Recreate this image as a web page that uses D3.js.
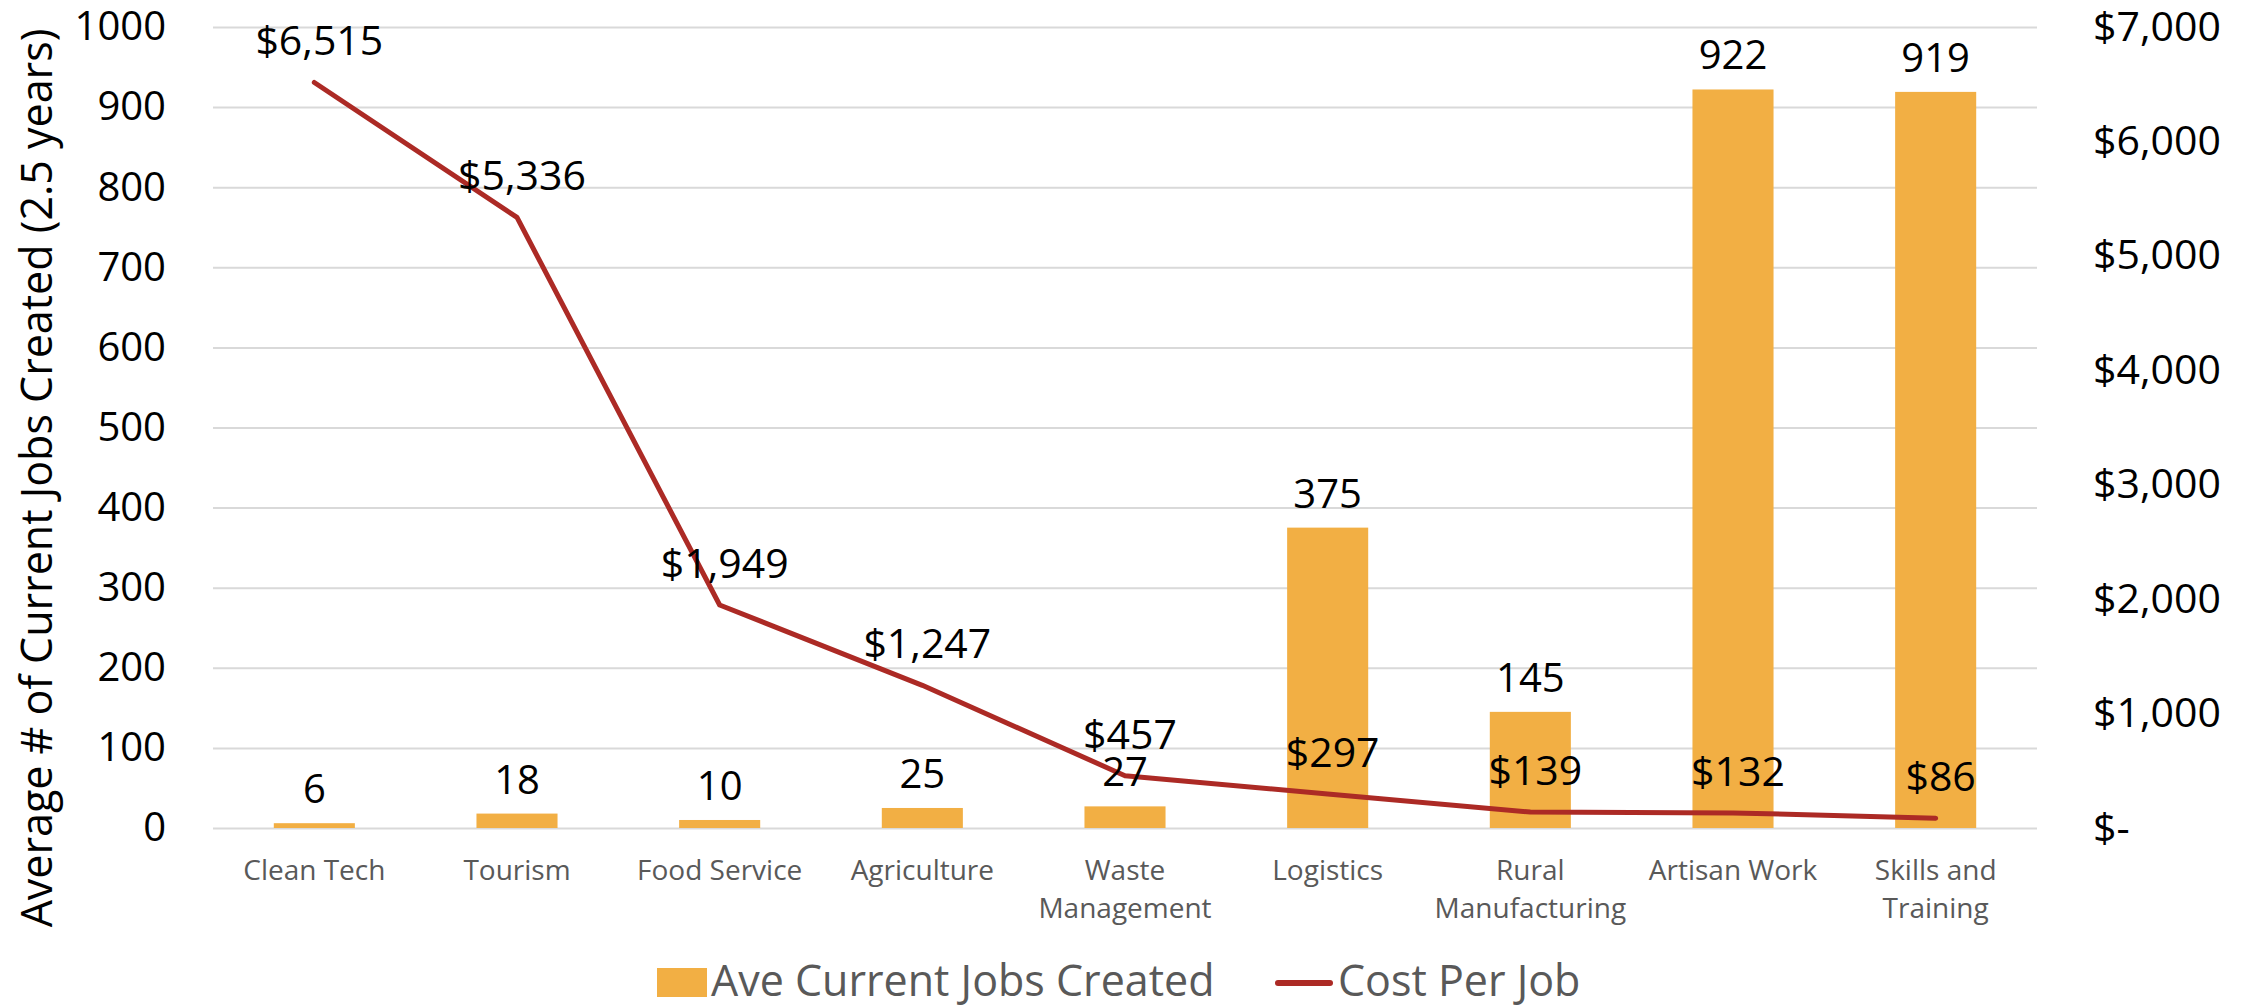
<!DOCTYPE html>
<html>
<head>
<meta charset="utf-8">
<script src="https://cdn.jsdelivr.net/npm/d3@7"></script>
<style>
  body { margin: 0; background: #fff; }
  svg { display: block; font-family: "Open Sans", sans-serif; }
</style>
</head>
<body>
<div class="canvas"></div>
<script>
const categories = [
  "Clean Tech", "Tourism", "Food Service", "Agriculture", "Waste Management",
  "Logistics", "Rural Manufacturing", "Artisan Work", "Skills and Training"
];
const jobsCreated = [6, 18, 10, 25, 27, 375, 145, 922, 919];
const costPerJob = [6515, 5336, 1949, 1247, 457, 297, 139, 132, 86];
const leftTicks = [0, 100, 200, 300, 400, 500, 600, 700, 800, 900, 1000];
const rightTicks = [0, 1000, 2000, 3000, 4000, 5000, 6000, 7000];
const seriesNames = ["Ave Current Jobs Created", "Cost Per Job"];

const width = 2257;
const height = 1006;
const margin = { top: 27, right: 220, bottom: 178, left: 213 };

const barColor = "#F2AF44";
const lineColor = "#AC2A25";
const gridColor = "#D9D9D9";
const greyText = "#595959";

const svg = d3
  .select(".canvas")
  .append("svg")
  .attr("width", width)
  .attr("height", height);

const x = d3
  .scaleBand()
  .domain(categories)
  .range([margin.left, width - margin.right])
  .paddingInner(0.6)
  .paddingOuter(0.3);

const yLeft = d3
  .scaleLinear()
  .domain([0, 1000])
  .range([height - margin.bottom, margin.top]);

const yRight = d3
  .scaleLinear()
  .domain([0, 7000])
  .range([height - margin.bottom, margin.top]);

// gridlines
svg
  .append("g")
  .attr("transform", `translate(${margin.left},0)`)
  .call(
    d3.axisLeft(yLeft)
      .tickValues(leftTicks)
      .tickSize(-(width - margin.left - margin.right))
      .tickFormat("")
  )
  .call((g) => g.select(".domain").remove())
  .call((g) => g.selectAll("line").attr("stroke", gridColor).attr("stroke-width", 2));

// left axis
svg
  .append("g")
  .attr("transform", `translate(${margin.left},0)`)
  .call(
    d3.axisLeft(yLeft)
      .tickValues(leftTicks)
      .tickSize(0)
      .tickPadding(47)
      .tickFormat(d3.format("d"))
  )
  .call((g) => g.select(".domain").remove())
  .call((g) =>
    g.selectAll("text")
      .attr("font-family", "Open Sans")
      .attr("font-size", 40)
      .attr("fill", "#000")
  );

// right axis
const moneyFmt = d3.format(",");
svg
  .append("g")
  .attr("transform", `translate(${width - margin.right},0)`)
  .call(
    d3.axisRight(yRight)
      .tickValues(rightTicks)
      .tickSize(0)
      .tickPadding(56)
      .tickFormat((d) => (d === 0 ? "$-" : "$" + moneyFmt(d)))
  )
  .call((g) => g.select(".domain").remove())
  .call((g) =>
    g.selectAll("text")
      .attr("font-family", "Open Sans")
      .attr("font-size", 41)
      .attr("fill", "#000")
  );

// category axis
const xAxis = svg
  .append("g")
  .attr("transform", `translate(0,${height - margin.bottom})`)
  .call(d3.axisBottom(x).tickSize(0).tickPadding(0))
  .call((g) => g.select(".domain").remove());

xAxis
  .selectAll("text")
  .attr("font-family", "Open Sans")
  .attr("font-size", 28)
  .attr("fill", greyText)
  .attr("dy", null)
  .attr("y", 0)
  .each(function (d) {
    const text = d3.select(this);
    const words = d.split(" ");
    text.text(null);
    let line = [];
    let lineNo = 0;
    let tspan = text.append("tspan").attr("x", 0).attr("y", 52);
    words.forEach((word) => {
      line.push(word);
      tspan.text(line.join(" "));
      if (tspan.node().getComputedTextLength() > x.step() - 6 && line.length > 1) {
        line.pop();
        tspan.text(line.join(" "));
        line = [word];
        lineNo++;
        tspan = text
          .append("tspan")
          .attr("x", 0)
          .attr("y", 52 + lineNo * 38)
          .text(word);
      }
    });
  });

// bars
svg
  .append("g")
  .selectAll("rect")
  .data(jobsCreated)
  .enter()
  .append("rect")
  .attr("x", (d, i) => x(categories[i]))
  .attr("y", (d) => yLeft(d))
  .attr("width", x.bandwidth())
  .attr("height", (d) => yLeft(0) - yLeft(d))
  .attr("fill", barColor);

// cost line
const line = d3
  .line()
  .x((d, i) => x(categories[i]) + x.bandwidth() / 2)
  .y((d) => yRight(d));

svg
  .append("path")
  .datum(costPerJob)
  .attr("d", line)
  .attr("fill", "none")
  .attr("stroke", lineColor)
  .attr("stroke-width", 5)
  .attr("stroke-linecap", "round")
  .attr("stroke-linejoin", "round");

// bar labels
svg
  .append("g")
  .selectAll("text")
  .data(jobsCreated)
  .enter()
  .append("text")
  .attr("x", (d, i) => x(categories[i]) + x.bandwidth() / 2)
  .attr("y", (d) => yLeft(d) - 20)
  .attr("text-anchor", "middle")
  .attr("font-size", 40)
  .attr("fill", "#000")
  .text((d) => d);

// cost labels
svg
  .append("g")
  .selectAll("text")
  .data(costPerJob)
  .enter()
  .append("text")
  .attr("x", (d, i) => x(categories[i]) + x.bandwidth() / 2 + 5)
  .attr("y", (d) => yRight(d) - 27)
  .attr("text-anchor", "middle")
  .attr("font-size", 41)
  .attr("fill", "#000")
  .text((d) => "$" + moneyFmt(d));

// y axis title
svg
  .append("text")
  .attr("transform", "translate(52,478) rotate(-90)")
  .attr("text-anchor", "middle")
  .attr("font-size", 43)
  .attr("fill", "#000")
  .text("Average # of Current Jobs Created (2.5 years)");

// legend
const legend = svg.append("g").attr("class", "legend");

legend
  .append("rect")
  .attr("x", 657)
  .attr("y", 968)
  .attr("width", 50)
  .attr("height", 29)
  .attr("fill", barColor);

legend
  .append("text")
  .attr("x", 711)
  .attr("y", 996)
  .attr("font-size", 43)
  .attr("fill", greyText)
  .text(seriesNames[0]);

legend
  .append("line")
  .attr("x1", 1278)
  .attr("x2", 1330)
  .attr("y1", 983)
  .attr("y2", 983)
  .attr("stroke", lineColor)
  .attr("stroke-width", 6)
  .attr("stroke-linecap", "round");

legend
  .append("text")
  .attr("x", 1338)
  .attr("y", 996)
  .attr("font-size", 43)
  .attr("fill", greyText)
  .text(seriesNames[1]);
</script>
</body>
</html>
